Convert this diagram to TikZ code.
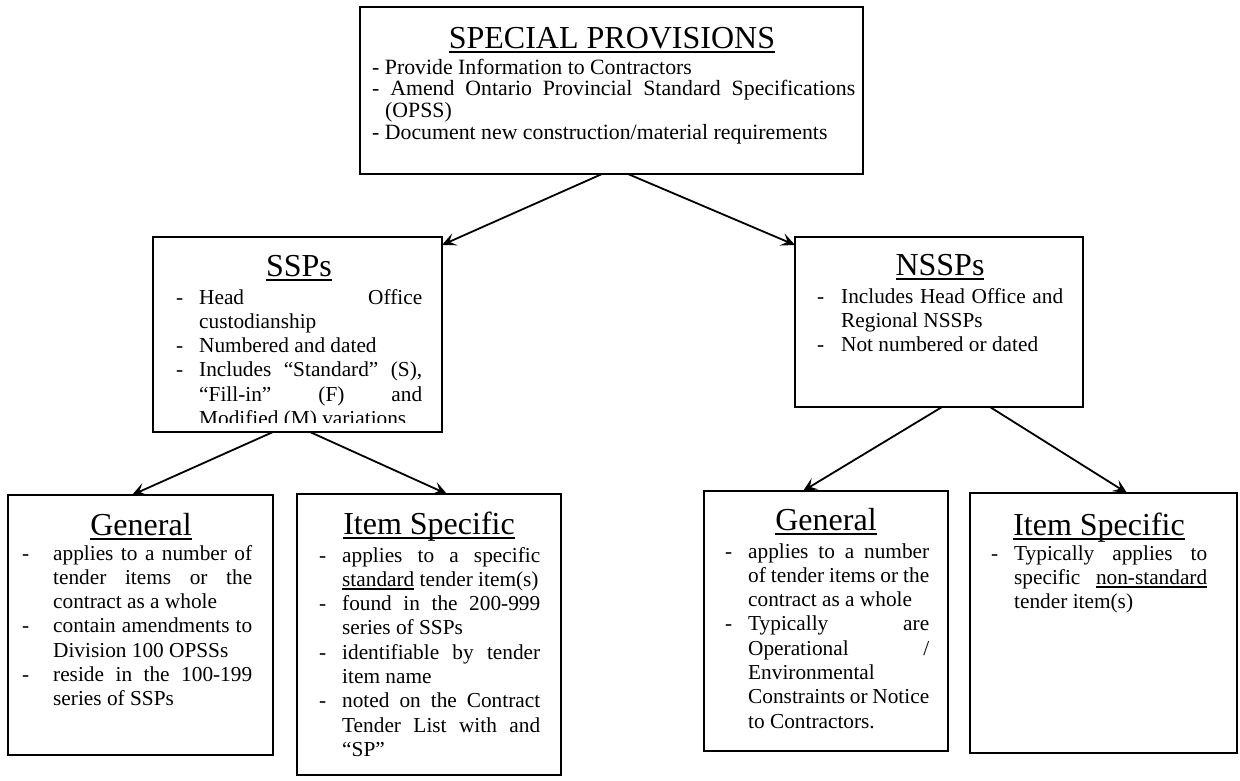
\documentclass[tikz,border=0pt]{standalone}
\usepackage{fontspec}
\setmainfont{Liberation Serif}
\usetikzlibrary{arrows.meta}
\newlength\dw
\newcommand\myul[1]{\setbox0\hbox{#1}\rlap{\rule[-0.15em]{\wd0}{0.05em}}\box0\relax}
\newcommand\ljd[1]{\makebox[\dw][l]{-}\makebox[\dimexpr\linewidth-\dw\relax][s]{\spaceskip=0pt\xspaceskip=0pt\relax #1}}
\newcommand\ljn[1]{\hspace*{\dw}\makebox[\dimexpr\linewidth-\dw\relax][s]{\spaceskip=0pt\xspaceskip=0pt\relax #1}}
\newcommand\lrd[1]{\makebox[\dw][l]{-}#1}
\newcommand\lrn[1]{\hspace*{\dw}#1}
\newcommand\bodyinit[1]{\raggedright\spaceskip=0pt\xspaceskip=0pt\relax\setlength\lineskiplimit{-\maxdimen}\setlength\dw{#1}}
\tikzset{
  box/.style={draw=black, line width=1.8pt, inner sep=0pt, outer sep=0pt, fill=none},
  ttl/.style={anchor=base, inner sep=0pt, font=\fontsize{32}{36}\selectfont},
  body/.style={anchor=base west, inner sep=0pt, font=\fontsize{21.3}{24.3}\selectfont},
  topbody/.style={anchor=base west, inner sep=0pt, font=\fontsize{21.8}{21.8}\selectfont},
  conn/.style={line width=1.8pt, -{Stealth[length=14pt,width=13pt,inset=6pt]}}
}
\begin{document}
\begin{tikzpicture}[x=1pt,y=-1pt]
\useasboundingbox (0,0) rectangle (1240,780);
\fill[white] (0,0) rectangle (1240,780);

% boxes
\node[box, minimum width=503pt, minimum height=167pt, anchor=north west] (top) at (360,7) {};
\node[box, minimum width=289pt, minimum height=195pt, anchor=north west] (ssp) at (153,237) {};
\node[box, minimum width=288pt, minimum height=170pt, anchor=north west] (nssp) at (795,237) {};
\node[box, minimum width=265pt, minimum height=260pt, anchor=north west] (genL) at (8,495) {};
\node[box, minimum width=264pt, minimum height=281pt, anchor=north west] (itemL) at (297,494) {};
\node[box, minimum width=244pt, minimum height=260pt, anchor=north west] (genR) at (704,491) {};
\node[box, minimum width=267pt, minimum height=260pt, anchor=north west] (itemR) at (970,493) {};

% top box
\node[ttl] (ttop) at (612,48) {\myul{SPECIAL PROVISIONS}};
\node[topbody, text width=483pt] (btop) at (372,74) {\bodyinit{11pt}%
- Provide Information to Contractors\\
\makebox[\linewidth][s]{\spaceskip=0pt\relax - Amend Ontario Provincial Standard Specifications}\\
\hspace*{13pt}(OPSS)\\
- Document new construction/material requirements};

% SSPs
\node[ttl] (tssp) at (299,276) {\myul{SSPs}};
\begin{scope}
\clip (153,237) rectangle (442,422);
\node[body, text width=246pt] (bssp) at (176,304) {\bodyinit{23pt}%
\ljd{Head Office}\\
\lrn{custodianship}\\
\lrd{Numbered and dated}\\
\ljd{Includes “Standard” (S),}\\
\ljn{“Fill-in” (F) and}\\
\lrn{Modified (M) variations}};
\end{scope}

% NSSPs
\node[ttl] (tnssp) at (940,275) {\myul{NSSPs}};
\node[body, text width=246pt] (bnssp) at (817,303) {\bodyinit{24pt}%
\ljd{Includes Head Office and}\\
\lrn{Regional NSSPs}\\
\lrd{Not numbered or dated}};

% General left
\node[ttl] (tgenL) at (141,535) {\myul{General}};
\node[body, text width=230pt] (bgenL) at (22,560) {\bodyinit{31pt}%
\ljd{applies to a number of}\\
\ljn{tender items or the}\\
\lrn{contract as a whole}\\
\ljd{contain amendments to}\\
\lrn{Division 100 OPSSs}\\
\ljd{reside in the 100-199}\\
\lrn{series of SSPs}};

% Item Specific left
\node[ttl] (titemL) at (429,534) {\myul{Item Specific}};
\node[body, text width=221pt] (bitemL) at (319,562) {\bodyinit{23pt}%
\ljd{applies to a specific}\\
\lrn{\myul{standard} tender item(s)}\\
\ljd{found in the 200-999}\\
\lrn{series of SSPs}\\
\ljd{identifiable by tender}\\
\lrn{item name}\\
\ljd{noted on the Contract}\\
\ljn{Tender List with and}\\
\lrn{“SP”}};

% General right
\node[ttl] (tgenR) at (826,530) {\myul{General}};
\node[body, text width=204pt] (bgenR) at (725,558) {\bodyinit{23pt}%
\ljd{applies to a number}\\
\ljn{of tender items or the}\\
\lrn{contract as a whole}\\
\ljd{Typically are}\\
\ljn{Operational /}\\
\lrn{Environmental}\\
\ljn{Constraints or Notice}\\
\lrn{to Contractors.}};

% Item Specific right
\node[ttl] (titemR) at (1099,535) {\myul{Item Specific}};
\node[body, text width=216pt] (bitemR) at (991,560) {\bodyinit{23pt}%
\ljd{Typically applies to}\\
\ljn{specific \myul{non-standard}}\\
\lrn{tender item(s)}};

% connectors
\draw[conn] ([xshift=-9.5pt]top.south) -- ([yshift=-8pt]ssp.north east);
\draw[conn] ([xshift=16.5pt]top.south) -- ([yshift=-8pt]nssp.north west);
\draw[conn] ([xshift=-24.5pt]ssp.south) -- ([xshift=-8.5pt]genL.north);
\draw[conn] ([xshift=12.5pt]ssp.south) -- ([xshift=18pt]itemL.north);
\draw[conn] ([xshift=3pt]nssp.south) -- ([xshift=-23pt]genR.north);
\draw[conn] ([xshift=51pt]nssp.south) -- ([xshift=23.5pt]itemR.north);
\end{tikzpicture}
\end{document}
